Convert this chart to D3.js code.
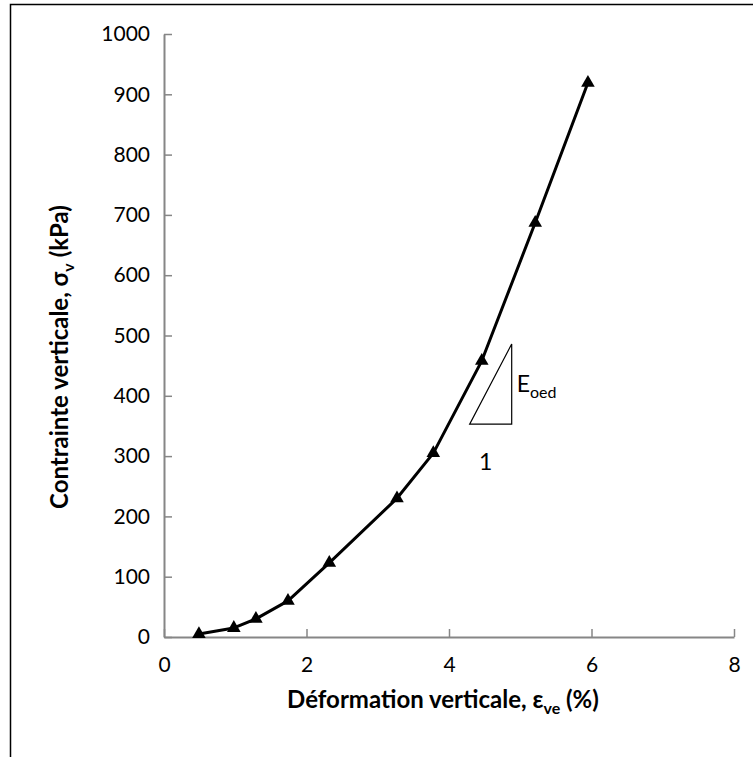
<!DOCTYPE html>
<html>
<head>
<meta charset="utf-8">
<script src="https://cdn.jsdelivr.net/npm/d3@7"></script>
<style>
  body { margin: 0; background: #fff; }
  svg { display: block; }
</style>
</head>
<body>
<svg id="chart" width="753" height="757"></svg>
<script>
// strain (%) and vertical stress (kPa)
const strain = [0.49, 0.98, 1.29, 1.74, 2.32, 3.27, 3.78, 4.46, 5.21, 5.95];
const stress = [5, 15, 30, 60, 123, 230, 305, 458, 687, 919];

const xTicks = [0, 2, 4, 6, 8];
const yTicks = [0, 100, 200, 300, 400, 500, 600, 700, 800, 900, 1000];

// slope triangle (E_oed), in data units
const slopeX = [4.29, 4.88];
const slopeY = [353, 486];

const font = "Lato, 'Open Sans', sans-serif";
const axisGrey = "#868686";

const svg = d3.select("#chart");

// outer frame, cropped on right and bottom
svg.append("rect")
  .attr("x", 10.5).attr("y", 4.5)
  .attr("width", 800).attr("height", 800)
  .attr("fill", "none")
  .attr("stroke", "#000")
  .attr("stroke-width", 1.5);

const x = d3.scaleLinear().domain([0, 8]).range([164, 734]);
const y = d3.scaleLinear().domain([0, 1000]).range([637, 34]);

// axes: ticks point inward like the original
const xAxis = svg.append("g")
  .attr("transform", `translate(0,${y(0)})`)
  .call(d3.axisBottom(x).tickValues(xTicks).tickFormat(d3.format("d"))
    .tickSizeInner(-8).tickSizeOuter(0).tickPadding(20));
const yAxis = svg.append("g")
  .attr("transform", `translate(${x(0)},0)`)
  .call(d3.axisLeft(y).tickValues(yTicks).tickFormat(d3.format("d"))
    .tickSizeInner(-8).tickSizeOuter(0).tickPadding(14));

[xAxis, yAxis].forEach(a => {
  a.select(".domain").attr("stroke", axisGrey).attr("stroke-width", 2);
  a.selectAll(".tick line").attr("stroke", axisGrey).attr("stroke-width", 1.5);
  a.selectAll(".tick text")
    .attr("fill", "#000")
    .attr("font-family", font)
    .attr("font-size", 21);
});

// curve
const pts = strain.map((d, i) => [d, stress[i]]);
svg.append("path")
  .datum(pts)
  .attr("fill", "none")
  .attr("stroke", "#000")
  .attr("stroke-width", 3)
  .attr("stroke-linejoin", "round")
  .attr("d", d3.line().x(d => x(d[0])).y(d => y(d[1])));

svg.append("g").selectAll("path")
  .data(pts)
  .join("path")
  .attr("transform", d => `translate(${x(d[0])},${y(d[1])})`)
  .attr("d", d3.symbol(d3.symbolTriangle, 80))
  .attr("fill", "#000");

// slope triangle
const tri = [[slopeX[0], slopeY[0]], [slopeX[1], slopeY[0]], [slopeX[1], slopeY[1]]];
svg.append("path")
  .attr("d", d3.line().x(d => x(d[0])).y(d => y(d[1]))(tri) + "Z")
  .attr("fill", "none")
  .attr("stroke", "#000")
  .attr("stroke-width", 1.2);

const eLab = svg.append("text")
  .attr("x", x(slopeX[1]) + 5)
  .attr("y", y((slopeY[0] + slopeY[1]) / 2) + 8)
  .attr("font-family", font)
  .attr("font-size", 23);
eLab.append("tspan").text("E");
eLab.append("tspan").attr("dy", 6).attr("font-size", 16).text("oed");

svg.append("text")
  .attr("x", x((slopeX[0] + slopeX[1]) / 2) - 5)
  .attr("y", y(slopeY[0]) + 46)
  .attr("text-anchor", "middle")
  .attr("font-family", font)
  .attr("font-size", 23)
  .text("1");

// axis titles
const xt = svg.append("text")
  .attr("x", 443)
  .attr("y", 708)
  .attr("text-anchor", "middle")
  .attr("font-family", font)
  .attr("font-weight", "bold")
  .attr("font-size", 24);
xt.append("tspan").text("Déformation verticale, ε");
xt.append("tspan").attr("dy", 6).attr("font-size", 16).text("ve");
xt.append("tspan").attr("dy", -6).text(" (%)");

const yt = svg.append("text")
  .attr("transform", `translate(68,357) rotate(-90)`)
  .attr("text-anchor", "middle")
  .attr("font-family", font)
  .attr("font-weight", "bold")
  .attr("font-size", 24);
yt.append("tspan").text("Contrainte verticale, σ");
yt.append("tspan").attr("dy", 6).attr("font-size", 16).text("v");
yt.append("tspan").attr("dy", -6).text(" (kPa)");
</script>
</body>
</html>
